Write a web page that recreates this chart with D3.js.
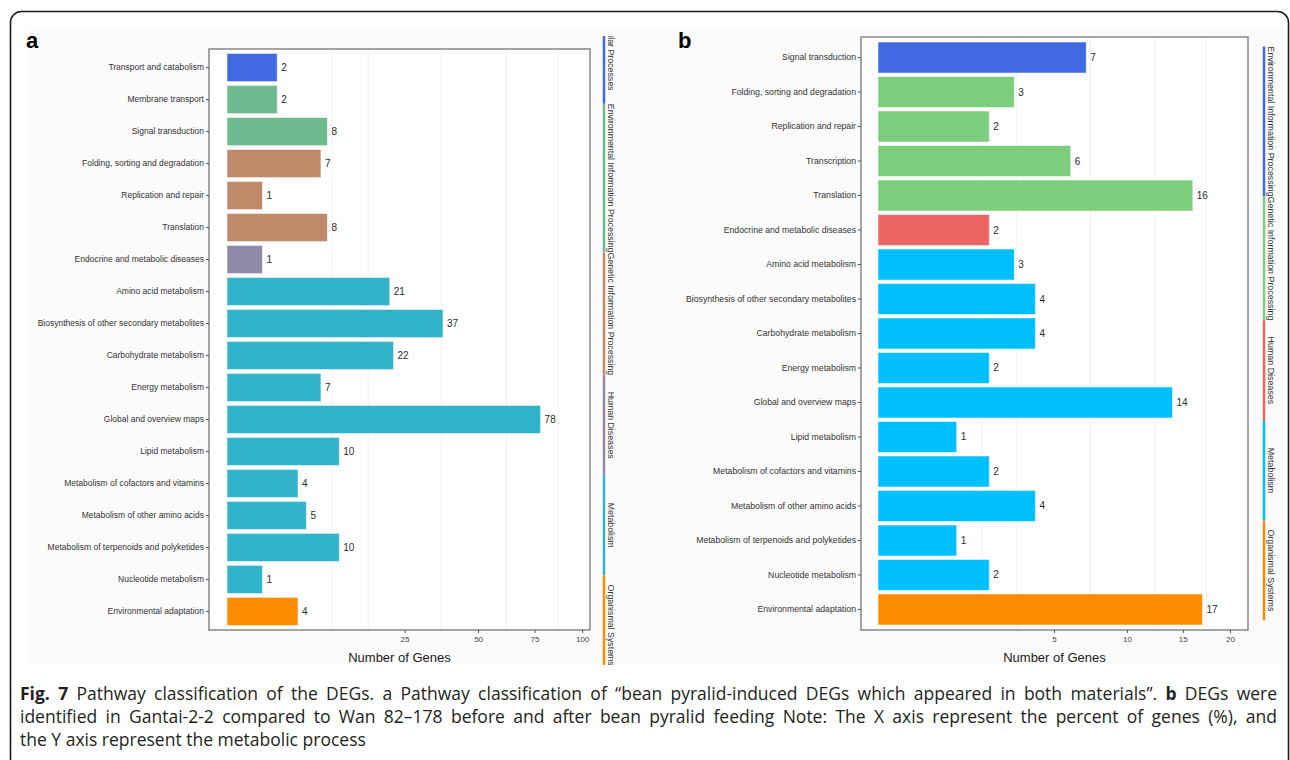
<!DOCTYPE html>
<html><head><meta charset="utf-8">
<script src="https://cdn.jsdelivr.net/npm/d3@7"></script>
<style>body{margin:0;background:#fff;} svg{display:block;}</style>
</head><body>
<svg id="c" width="1290" height="760"></svg>
<script>
// ---------- DATA ----------
const groupsA = ["Cellular Processes","Environmental Information Processing","Genetic Information Processing","Human Diseases","Metabolism","Organismal Systems"];
const colorsA = ["#4169E1","#6DBA8E","#BF8A6A","#8F8AA7","#31B3CA","#FF8C00"];
const categoriesA = ["Transport and catabolism","Membrane transport","Signal transduction","Folding, sorting and degradation","Replication and repair","Translation","Endocrine and metabolic diseases","Amino acid metabolism","Biosynthesis of other secondary metabolites","Carbohydrate metabolism","Energy metabolism","Global and overview maps","Lipid metabolism","Metabolism of cofactors and vitamins","Metabolism of other amino acids","Metabolism of terpenoids and polyketides","Nucleotide metabolism","Environmental adaptation"];
const valuesA = [2,2,8,7,1,8,1,21,37,22,7,78,10,4,5,10,1,4];
const groupIndexA = [0,1,1,2,2,2,3,4,4,4,4,4,4,4,4,4,4,5];
const ticksA = [25,50,75,100];
const gridA = [8.75,15.8,36.4,61.9,87.1];

const groupsB = ["Environmental Information Processing","Genetic Information Processing","Human Diseases","Metabolism","Organismal Systems"];
const colorsB = ["#4169E1","#7CCD7C","#EE6363","#00BFFF","#FF8C00"];
const categoriesB = ["Signal transduction","Folding, sorting and degradation","Replication and repair","Transcription","Translation","Endocrine and metabolic diseases","Amino acid metabolism","Biosynthesis of other secondary metabolites","Carbohydrate metabolism","Energy metabolism","Global and overview maps","Lipid metabolism","Metabolism of cofactors and vitamins","Metabolism of other amino acids","Metabolism of terpenoids and polyketides","Nucleotide metabolism","Environmental adaptation"];
const valuesB = [7,3,2,6,16,2,3,4,4,2,14,1,2,4,1,2,17];
const groupIndexB = [0,1,1,1,1,2,3,3,3,3,3,3,3,3,3,3,4];
const ticksB = [5,10,15,20];
const gridB = [1.74,3.09,7.29,12.37,17.4];

const axisTitle = "Number of Genes";
const captionLines = [
  [{t:"Fig. 7",b:true},{t:" Pathway classification of the DEGs. a Pathway classification of \u201cbean pyralid-induced DEGs which appeared in both materials\u201d. "},{t:"b",b:true},{t:" DEGs were"}],
  [{t:"identified in Gantai-2-2 compared to Wan 82\u2013178 before and after bean pyralid feeding Note: The X axis represent the percent of genes (%), and"}],
  [{t:"the Y axis represent the metabolic process"}]
];

// ---------- DRAW ----------
const svg = d3.select("#c");
const FONT = "'Liberation Sans', Arial, Helvetica, sans-serif";

svg.append("rect").attr("x",10.5).attr("y",11.5).attr("width",1278).attr("height",820).attr("rx",11)
  .attr("fill","none").attr("stroke","#1a1a1a").attr("stroke-width",1.6);
svg.append("rect").attr("x",28).attr("y",28).attr("width",1257).attr("height",637).attr("fill","#fbfbfb");

const defs = svg.append("defs");
defs.append("clipPath").attr("id","chartClip").append("rect")
  .attr("x",0).attr("y",36).attr("width",1290).attr("height",629);

function panel(o){
  const g = svg.append("g");
  const x = d3.scalePow().exponent(0.5).domain([0,o.xMax]).range([o.barStart,o.right]);
  const y = d3.scaleBand().domain(o.cats).range([o.top,o.bottom]).paddingInner(o.pi).paddingOuter(o.po);

  g.append("rect").attr("x",o.left).attr("y",o.top).attr("width",o.right-o.left).attr("height",o.bottom-o.top).attr("fill","#fff");
  g.selectAll(".grid").data(o.grid).join("line")
    .attr("x1",d=>x(d)).attr("x2",d=>x(d)).attr("y1",o.top).attr("y2",o.bottom)
    .attr("stroke","#f0f0f0").attr("stroke-width",1);

  g.selectAll(".bar").data(o.cats).join("rect")
    .attr("x",x(0)).attr("y",d=>y(d))
    .attr("width",(d,i)=>x(o.vals[i])-x(0)).attr("height",y.bandwidth())
    .attr("fill",(d,i)=>o.colors[o.gi[i]])
    .attr("stroke","rgba(255,255,255,0.55)").attr("stroke-width",1);

  g.selectAll(".val").data(o.cats).join("text")
    .attr("x",(d,i)=>x(o.vals[i])+4).attr("y",d=>y(d)+y.bandwidth()/2)
    .attr("dominant-baseline","central").attr("font-family",FONT).attr("font-size",10)
    .attr("fill","#2b2b2b").text((d,i)=>o.vals[i]);

  g.append("rect").attr("x",o.left).attr("y",o.top).attr("width",o.right-o.left).attr("height",o.bottom-o.top)
    .attr("fill","none").attr("stroke","#7f7f7f").attr("stroke-width",1.4);

  const ya = g.append("g").attr("transform",`translate(${o.left},0)`)
    .call(d3.axisLeft(y).tickSize(3).tickPadding(2));
  ya.select(".domain").remove();
  ya.selectAll("line").attr("stroke","#555");
  ya.selectAll("text").attr("font-family",FONT).attr("font-size",o.labelFont).attr("fill","#333");

  const xa = g.append("g").attr("transform",`translate(0,${o.bottom})`)
    .call(d3.axisBottom(x).tickValues(o.ticks).tickSize(3).tickPadding(3));
  xa.select(".domain").remove();
  xa.selectAll("line").attr("stroke","#555");
  xa.selectAll("text").attr("font-family",FONT).attr("font-size",8).attr("fill","#444");

  g.append("text").attr("x",(o.left+o.right)/2).attr("y",o.bottom+32).attr("text-anchor","middle")
    .attr("font-family",FONT).attr("font-size",13).attr("fill","#1a1a1a").text(axisTitle);

  g.append("text").attr("x",o.letterX).attr("y",48).attr("font-family",FONT).attr("font-weight","bold")
    .attr("font-size",22).attr("fill","#000").text(o.letter);

  // strips
  const sg = g.append("g").attr("clip-path","url(#chartClip)");
  const labels = sg.selectAll(".st").data(o.groups).join("text")
    .attr("font-family",FONT).attr("font-size",o.stripFont).attr("fill","#333")
    .attr("text-anchor","middle").attr("dominant-baseline","central").text(d=>d);
  const lens = [];
  labels.each(function(){ lens.push(Math.max(this.getComputedTextLength(), o.minSeg)); });
  const total = d3.sum(lens);
  let s = (o.top+o.bottom)/2 - total/2;
  const starts = lens.map(l=>{const v=s; s+=l; return v;});
  sg.selectAll(".sl").data(o.groups).join("line")
    .attr("x1",o.stripX).attr("x2",o.stripX)
    .attr("y1",(d,i)=>starts[i]).attr("y2",(d,i)=>starts[i]+lens[i])
    .attr("stroke",(d,i)=>o.colors[i]).attr("stroke-width",2.5);
  labels.attr("transform",(d,i)=>`translate(${o.stripX+7},${starts[i]+lens[i]/2}) rotate(90)`);
}

panel({cats:categoriesA, vals:valuesA, gi:groupIndexA, groups:groupsA, colors:colorsA, ticks:ticksA, grid:gridA,
  xMax:104.5, left:209, right:590, barStart:227, top:49, bottom:630, pi:0.12, po:0.14,
  labelFont:8.5, stripX:604, stripFont:8.8, minSeg:100, letter:"a", letterX:26});
panel({cats:categoriesB, vals:valuesB, gi:groupIndexB, groups:groupsB, colors:colorsB, ticks:ticksB, grid:gridB,
  xMax:22.1, left:861, right:1248, barStart:878, top:37, bottom:630, pi:0.1, po:0.145,
  labelFont:8.7, stripX:1264, stripFont:8.9, minSeg:100, letter:"b", letterX:678});

// caption
const capG = svg.append("g");
const capTarget = 1257;
captionLines.forEach((line,li)=>{
  const t = capG.append("text").attr("x",20).attr("y",700+li*23)
    .attr("font-family","'Open Sans', 'Noto Sans', sans-serif").attr("font-size",17.5).attr("fill","#231f20");
  line.forEach(p=>{ t.append("tspan").attr("font-weight",p.b?"bold":null).text(p.t); });
  if (li < captionLines.length-1){
    const nat = t.node().getComputedTextLength();
    const spaces = line.map(p=>p.t).join("").split(" ").length-1;
    const ws = (capTarget-nat)/spaces;
    if (ws >= 0) t.attr("word-spacing",ws);
    else t.attr("textLength",capTarget).attr("lengthAdjust","spacingAndGlyphs");
  }
});
</script>
</body></html>
